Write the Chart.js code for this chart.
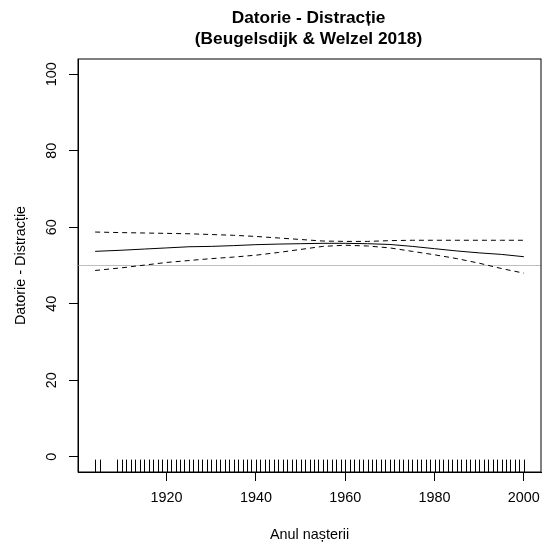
<!DOCTYPE html>
<html>
<head>
<meta charset="utf-8">
<script src="https://cdn.jsdelivr.net/npm/chart.js@4/dist/chart.umd.min.js"></script>
<style>
  html, body { margin: 0; padding: 0; background: #fff; }
</style>
</head>
<body>
<div style="width:545px;height:543px"><canvas id="chart" width="545" height="543"></canvas></div>
<script>
// valori
var years = [1904, 1910, 1915, 1920, 1925, 1930, 1935, 1940, 1945, 1950, 1955, 1960, 1965, 1970, 1975, 1980, 1985, 1990, 1995, 2000];
var fitValues = [53.7, 54.0, 54.3, 54.6, 54.9, 55.0, 55.2, 55.45, 55.6, 55.7, 55.8, 55.8, 55.7, 55.5, 55.0, 54.4, 53.8, 53.3, 52.9, 52.3];
var upperValues = [58.75, 58.6, 58.5, 58.4, 58.3, 58.1, 57.9, 57.6, 57.2, 56.8, 56.4, 56.3, 56.3, 56.5, 56.6, 56.6, 56.6, 56.6, 56.6, 56.6];
var lowerValues = [48.7, 49.4, 50.1, 50.8, 51.3, 51.8, 52.2, 52.7, 53.4, 54.2, 55.0, 55.3, 55.1, 54.6, 53.7, 52.8, 51.8, 50.6, 49.2, 48.0];

// anii observati (rug)
var rugYears = [1904, 1905,
  1909, 1910, 1911, 1912, 1913, 1914, 1915, 1916, 1917, 1918, 1919,
  1920, 1921, 1922, 1923, 1924, 1925, 1926, 1927, 1928, 1929,
  1930, 1931, 1932, 1933, 1934, 1935, 1936, 1937, 1938, 1939,
  1940, 1941, 1942, 1943, 1944, 1945, 1946, 1947, 1948, 1949,
  1950, 1951, 1952, 1953, 1954, 1955, 1956, 1957, 1958, 1959,
  1960, 1961, 1962, 1963, 1964, 1965, 1966, 1967, 1968, 1969,
  1970, 1971, 1972, 1973, 1974, 1975, 1976, 1977, 1978, 1979,
  1980, 1981, 1982, 1983, 1984, 1985, 1986, 1987, 1988, 1989,
  1990, 1991, 1992, 1993, 1994, 1995, 1996, 1997, 1998, 1999, 2000];

var xTicks = [1920, 1940, 1960, 1980, 2000];
var yTicks = [0, 20, 40, 60, 80, 100];
var yLimits = [0, 100];
var refLevel = 50;

var titleLines = ['Datorie - Distracție', '(Beugelsdijk & Welzel 2018)'];
var xLabel = 'Anul nașterii';
var yLabel = 'Datorie - Distracție';

// ca in R: domeniul extins cu 4%
var xLo = Math.min.apply(null, rugYears), xHi = Math.max.apply(null, rugYears);
var xPad = (xHi - xLo) * 0.04;
var yPad = (yLimits[1] - yLimits[0]) * 0.04;

function pts(vals) {
  return years.map(function (y, i) { return { x: y, y: vals[i] }; });
}

var FONT = 'Liberation Sans, Arial, sans-serif';

var decor = {
  id: 'decor',
  beforeDatasetsDraw: function (chart) {
    var ctx = chart.ctx, a = chart.chartArea;
    var py = chart.scales.y.getPixelForValue(refLevel);
    ctx.save();
    ctx.strokeStyle = '#bebebe';
    ctx.lineWidth = 1;
    ctx.beginPath();
    ctx.moveTo(a.left, py);
    ctx.lineTo(a.right, py);
    ctx.stroke();
    ctx.restore();
  },
  afterDraw: function (chart) {
    var ctx = chart.ctx, a = chart.chartArea, xs = chart.scales.x;
    ctx.save();
    // cadru
    ctx.strokeStyle = '#000';
    ctx.lineWidth = 1;
    ctx.strokeRect(a.left, a.top, a.right - a.left, a.bottom - a.top);
    // rug
    var len = (a.bottom - a.top) * 0.03;
    ctx.beginPath();
    rugYears.forEach(function (yr) {
      var px = Math.round(xs.getPixelForValue(yr)) + 0.5;
      ctx.moveTo(px, a.bottom);
      ctx.lineTo(px, a.bottom - len);
    });
    ctx.stroke();
    // titlu
    var cx = (a.left + a.right) / 2;
    ctx.fillStyle = '#000';
    ctx.textAlign = 'center';
    ctx.textBaseline = 'alphabetic';
    ctx.font = 'bold 17.3px ' + FONT;
    ctx.fillText(titleLines[0], cx - 1, 23);
    ctx.fillText(titleLines[1], cx - 1, 43.5);
    // etichete axe
    ctx.font = '14.4px ' + FONT;
    ctx.fillText(xLabel, cx, 538.5);
    ctx.translate(25, (a.top + a.bottom) / 2);
    ctx.rotate(-Math.PI / 2);
    ctx.fillText(yLabel, 0, 0);
    ctx.restore();
  }
};

var ctx = document.getElementById('chart').getContext('2d');
var chart = new Chart(ctx, {
  type: 'line',
  data: {
    datasets: [
      { data: pts(fitValues), borderColor: '#000', borderWidth: 1, pointRadius: 0, fill: false, tension: 0 },
      { data: pts(upperValues), borderColor: '#000', borderWidth: 1, borderDash: [5, 4], pointRadius: 0, fill: false, tension: 0 },
      { data: pts(lowerValues), borderColor: '#000', borderWidth: 1, borderDash: [5, 4], pointRadius: 0, fill: false, tension: 0 }
    ]
  },
  options: {
    responsive: false,
    animation: false,
    devicePixelRatio: 1,
    layout: { padding: { top: 59, right: 4, left: 0, bottom: 0 } },
    plugins: { legend: { display: false }, tooltip: { enabled: false }, title: { display: false } },
    scales: {
      x: {
        type: 'linear',
        min: xLo - xPad,
        max: xHi + xPad,
        afterBuildTicks: function (s) { s.ticks = xTicks.map(function (v) { return { value: v }; }); },
        afterFit: function (s) { s.height = 71; s.paddingLeft = 0; s.paddingRight = 0; },
        grid: { display: true, drawOnChartArea: false, drawTicks: true, tickLength: 9, color: '#000', lineWidth: 1 },
        border: { display: true, color: '#000', width: 1 },
        ticks: { color: '#000', font: { family: FONT, size: 14.4 }, padding: 8, maxRotation: 0, autoSkip: false,
                 callback: function (v) { return String(v); } }
      },
      y: {
        type: 'linear',
        min: yLimits[0] - yPad,
        max: yLimits[1] + yPad,
        afterBuildTicks: function (s) { s.ticks = yTicks.map(function (v) { return { value: v }; }); },
        afterFit: function (s) { s.width = 78; s.paddingTop = 0; s.paddingBottom = 0; },
        grid: { display: true, drawOnChartArea: false, drawTicks: true, tickLength: 9, color: '#000', lineWidth: 1 },
        border: { display: true, color: '#000', width: 1 },
        ticks: { color: '#000', font: { family: FONT, size: 14.4 }, padding: 5, minRotation: 90, maxRotation: 90, crossAlign: 'center', autoSkip: false,
                 callback: function (v) { return String(v); } }
      }
    }
  },
  plugins: [decor]
});
</script>
</body>
</html>
